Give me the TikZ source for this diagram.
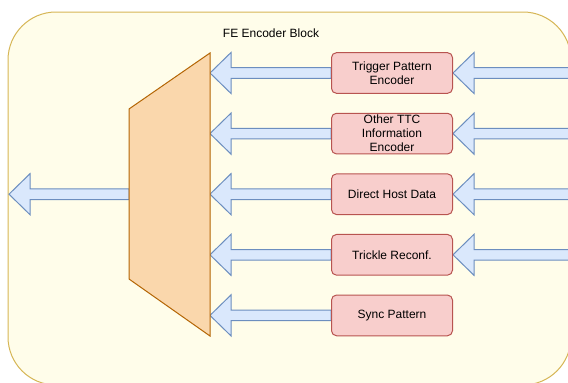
\documentclass[tikz,border=0pt]{standalone}
\usepackage{fontspec}
\setmainfont{Liberation Sans}
\usepackage{tikz}
\usetikzlibrary{calc}

\definecolor{blockfill}{HTML}{FFFDEA}
\definecolor{blockline}{HTML}{D6B656}
\definecolor{muxfill}{HTML}{FAD7AC}
\definecolor{muxline}{HTML}{B46504}
\definecolor{encfill}{HTML}{F8CECC}
\definecolor{encline}{HTML}{B85450}
\definecolor{arrfill}{HTML}{DAE8FC}
\definecolor{arrline}{HTML}{6C8EBF}

\pgfdeclarelayer{back}
\pgfdeclarelayer{mid}
\pgfsetlayers{back,mid,main}

% wide outlined arrow, from #1 (right) to its tip at #2 (left)
\newcommand{\fatarrow}[2]{%
  \draw[fatarr] let \p1=(#1), \p2=(#2) in
    (\x1,\y1+5.3pt) -- (\x2+21pt,\y1+5.3pt) -- (\x2+21pt,\y1+20.5pt)
    -- (\x2,\y1) -- (\x2+21pt,\y1-20.5pt) -- (\x2+21pt,\y1-5.3pt)
    -- (\x1,\y1-5.3pt) -- cycle;}

\begin{document}
\begin{tikzpicture}[
            x=1pt, y=-1pt,
            font=\fontsize{12}{14}\selectfont,
            enc/.style={draw=encline, fill=encfill, line width=1pt,
                rounded corners=5pt, minimum width=121pt,
                minimum height=40.7pt, inner sep=0pt, align=center},
            fatarr/.style={draw=arrline, fill=arrfill, line width=1pt,
                line join=miter}
        ]
            \useasboundingbox (0,0) rectangle (568,383);
            \clip (0,0) rectangle (568,383);

            % encoder block outline
            \begin{pgfonlayer}{back}
                \draw[draw=blockline, fill=blockfill, line width=1pt,
                    rounded corners=48pt] (8,12) rectangle (571,385);
            \end{pgfonlayer}
            \node (title) at (271,33) {FE Encoder Block};

            % encoders
            \node[enc] (tpe) at (392,73) {Trigger Pattern\\Encoder};
            \node[enc] (ttc) at (392,133.6) {Other TTC\\Information\\Encoder};
            \node[enc] (host) at (392,194.2) {Direct Host Data};
            \node[enc] (trickle) at (392,254.8) {Trickle Reconf.};
            \node[enc] (sync) at (392,315.4) {Sync Pattern};

            \coordinate (muxr) at (210,0);
            \coordinate (muxl) at (129,194.2);
            \coordinate (inx) at (585,0);
            \coordinate (outx) at (9,0);

            % inputs and outputs
            \begin{pgfonlayer}{mid}
                \foreach \e in {tpe,ttc,host,trickle,sync}
                    \fatarrow{\e.west}{\e.west -| muxr};
                \foreach \e in {tpe,ttc,host,trickle}
                    \fatarrow{\e.east -| inx}{\e.east};
                \fatarrow{muxl}{muxl -| outx};
            \end{pgfonlayer}

            % multiplexer
            \draw[draw=muxline, fill=muxfill, line width=1pt]
                (129,109) -- (210,53) -- (210,336) -- (129,279) -- cycle;
        \end{tikzpicture}
\end{document}
